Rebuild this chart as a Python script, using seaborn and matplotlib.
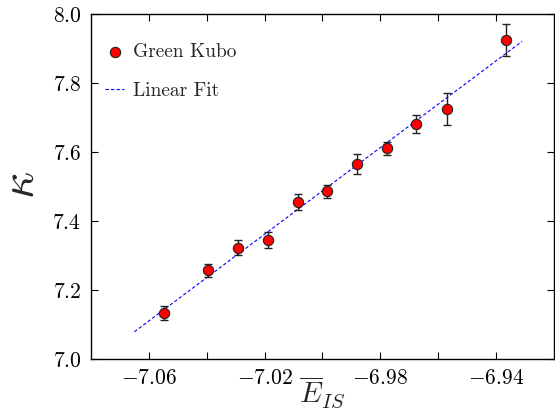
import numpy as np
import pandas as pd
import matplotlib
matplotlib.use("Agg")
import matplotlib.pyplot as plt
import seaborn as sns

# Inherent-structure energy vs. thermal conductivity (Green-Kubo)
e_is = [-7.0547, -7.0396, -7.0292, -7.0189, -7.0086, -6.9985,
        -6.9882, -6.9778, -6.9675, -6.9571, -6.9366]
kappa = [7.132, 7.257, 7.323, 7.346, 7.455, 7.486,
         7.565, 7.611, 7.680, 7.725, 7.925]
kappa_err = [0.020, 0.019, 0.021, 0.023, 0.022, 0.019,
             0.028, 0.019, 0.026, 0.046, 0.047]
fit_range = [-7.065, -6.931]

x_ticks = [-7.06, -7.04, -7.02, -7.00, -6.98, -6.96, -6.94]
x_labels = ["$-7.06$", "", "$-7.02$", "", "$-6.98$", "", "$-6.94$"]
y_ticks = [7.0, 7.2, 7.4, 7.6, 7.8, 8.0]
y_labels = ["$7.0$", "$7.2$", "$7.4$", "$7.6$", "$7.8$", "$8.0$"]

sns.set_style("ticks")
plt.rcParams["font.family"] = ["cmr10", "DejaVu Serif"]
plt.rcParams["mathtext.fontset"] = "cm"
plt.rcParams["axes.unicode_minus"] = False

df = pd.DataFrame({"E": e_is, "k": kappa, "err": kappa_err})
slope, intercept = np.polyfit(df["E"], df["k"], 1)
xf = np.array(fit_range)
fit_df = pd.DataFrame({"E": xf, "k": slope * xf + intercept})

fig = plt.figure(figsize=(5.55, 4.13), dpi=100)
ax = fig.add_axes([0.164, 0.131, 0.834, 0.835])

ax.errorbar(df["E"], df["k"], yerr=df["err"], fmt="none", ecolor="#222222",
            elinewidth=1.0, capsize=3, capthick=1.0, zorder=2)
sns.scatterplot(data=df, x="E", y="k", ax=ax, color="red", edgecolor="#222222",
                linewidth=0.8, s=55, zorder=3, label="Green Kubo")
sns.lineplot(data=fit_df, x="E", y="k", ax=ax, color="blue", lw=0.8,
             linestyle=(0, (3, 2)), zorder=1, label="Linear Fit")

ax.set_xlim(-7.08, -6.92)
ax.set_ylim(7.0, 8.0)
ax.set_xticks(x_ticks)
ax.set_xticklabels(x_labels)
ax.set_yticks(y_ticks)
ax.set_yticklabels(y_labels)
ax.tick_params(direction="in", length=5, width=0.8, top=True, right=True,
               labelsize=15.5, pad=7, colors="black")
for s in ax.spines.values():
    s.set_linewidth(1.0)
    s.set_color("black")

ax.set_xlabel(r"$\overline{E}_{IS}$", fontsize=21)
ax.xaxis.set_label_coords(0.5, -0.045)
ax.set_ylabel(r"$\kappa$", fontsize=34)
ax.yaxis.set_label_coords(-0.105, 0.505)

ax.legend(loc="upper left", frameon=False, fontsize=14, handlelength=1.0,
          handletextpad=0.45, labelspacing=1.05, borderpad=0.0,
          borderaxespad=0.0, bbox_to_anchor=(0.030, 0.915))

fig.savefig("out.png", dpi=100)
